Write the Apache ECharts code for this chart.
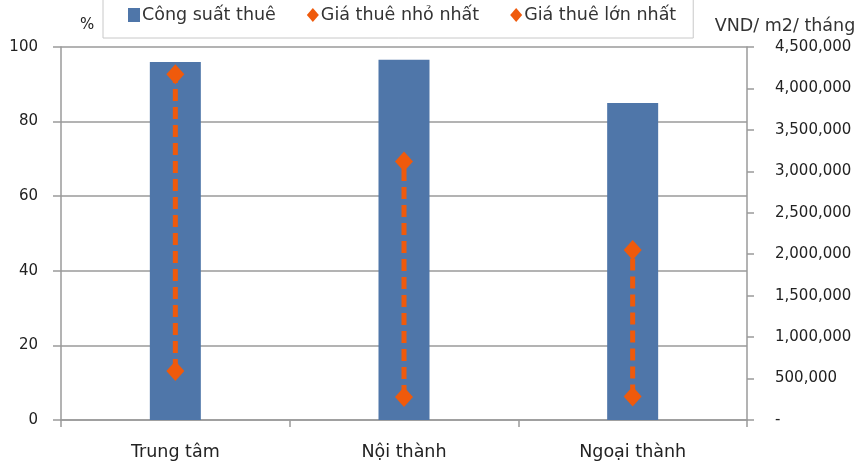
<!DOCTYPE html>
<html>
<head>
<meta charset="utf-8">
<script src="https://cdn.jsdelivr.net/npm/echarts@6/dist/echarts.min.js"></script>
<style>
  html, body { margin: 0; padding: 0; background: #fff; }
  #chart { width: 859px; height: 468px; }
</style>
</head>
<body>
<div id="chart"></div>
<script>
// Occupancy (%) and monthly rent range (VND/m2/month) by area
const categories = ['Trung tâm', 'Nội thành', 'Ngoại thành'];
const occupancy = [96.0, 96.6, 85.0];
const minRent = [590000, 276000, 284000];
const maxRent = [4170000, 3118000, 2050000];

const leftTicks = { min: 0, max: 100, interval: 20 };
const rightTicks = { min: 0, max: 4500000, interval: 500000 };

const BAR = '#4F76A9';
const ORANGE = '#EF5A0C';
const AXIS = '#9a9a9a';
const FONT = 'DejaVu Sans';
const TEXT = '#222';

const rangeData = categories.map((c, i) => [i, minRent[i], maxRent[i]]);

const chart = echarts.init(document.getElementById('chart'));
chart.setOption({
  animation: false,
  textStyle: { fontFamily: FONT },
  grid: { left: 61, right: 112, top: 47, bottom: 48 },
  legend: {
    left: 103, top: -8,
    padding: [14, 17, 14, 25],
    borderColor: '#c8c8c8', borderWidth: 1,
    itemGap: 31, itemWidth: 12, itemHeight: 14,
    textStyle: { fontFamily: FONT, fontSize: 17.5, color: '#333', padding: [0, 0, 0, -3] },
    data: [
      { name: 'Công suất thuê', icon: 'rect' },
      { name: 'Giá thuê nhỏ nhất', icon: 'diamond' },
      { name: 'Giá thuê lớn nhất', icon: 'diamond' }
    ]
  },
  xAxis: {
    type: 'category',
    data: categories,
    axisLine: { lineStyle: { color: AXIS, width: 1.5 } },
    axisTick: { show: true, length: 7, lineStyle: { color: AXIS, width: 1.5 } },
    axisLabel: { margin: 23, fontSize: 17.5, color: TEXT, fontFamily: FONT }
  },
  yAxis: [
    {
      type: 'value', ...leftTicks,
      name: '%', nameLocation: 'end', nameGap: 14,
      nameTextStyle: { align: 'left', padding: [0, 0, 0, 19], fontSize: 15, color: TEXT, fontFamily: FONT },
      axisLine: { show: true, lineStyle: { color: AXIS, width: 1.5 } },
      axisTick: { show: true, length: 8, lineStyle: { color: AXIS, width: 1.5 } },
      splitLine: { show: true, lineStyle: { color: AXIS, width: 1.5 } },
      axisLabel: { margin: 23, fontSize: 15, color: TEXT, fontFamily: FONT }
    },
    {
      type: 'value', ...rightTicks,
      name: 'VND/ m2/ tháng', nameLocation: 'end', nameGap: 12,
      nameTextStyle: { align: 'center', padding: [0, 0, 0, 76], fontSize: 17.5, color: '#333', fontFamily: FONT },
      position: 'right',
      axisLine: { show: true, lineStyle: { color: AXIS, width: 1.5 } },
      axisTick: { show: true, length: 7, lineStyle: { color: AXIS, width: 1.5 } },
      splitLine: { show: false },
      axisLabel: {
        margin: 28, fontSize: 15, color: TEXT, fontFamily: FONT,
        formatter: v => v === 0 ? '-' : v.toLocaleString('en-US')
      }
    }
  ],
  series: [
    {
      name: 'Công suất thuê',
      type: 'bar',
      yAxisIndex: 0,
      barWidth: 51,
      itemStyle: { color: BAR },
      data: occupancy
    },
    {
      // dashed connector between the lowest and highest rent of each area
      name: 'range',
      type: 'custom',
      yAxisIndex: 1,
      silent: true,
      z: 3,
      encode: { x: 0, y: [1, 2] },
      renderItem: function (params, api) {
        const a = api.coord([api.value(0), api.value(1)]);
        const b = api.coord([api.value(0), api.value(2)]);
        return {
          type: 'line',
          shape: { x1: a[0], y1: a[1], x2: b[0], y2: b[1] },
          style: { stroke: ORANGE, lineWidth: 5, lineDash: [12, 6] }
        };
      },
      data: rangeData
    },
    {
      name: 'Giá thuê nhỏ nhất',
      type: 'scatter',
      yAxisIndex: 1,
      symbol: 'diamond',
      symbolSize: [18, 20],
      z: 4,
      itemStyle: { color: ORANGE, opacity: 1 },
      data: minRent
    },
    {
      name: 'Giá thuê lớn nhất',
      type: 'scatter',
      yAxisIndex: 1,
      symbol: 'diamond',
      symbolSize: [18, 20],
      z: 4,
      itemStyle: { color: ORANGE, opacity: 1 },
      data: maxRent
    }
  ]
});
</script>
</body>
</html>
